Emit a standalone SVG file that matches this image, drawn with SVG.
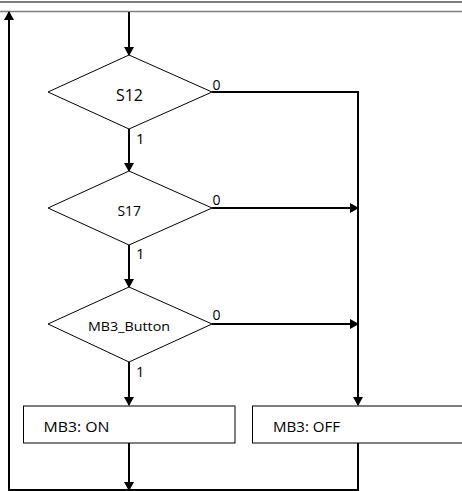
<svg xmlns="http://www.w3.org/2000/svg" width="462" height="491" viewBox="0 0 462 491">
<defs>
<marker id="ah" viewBox="0 0 9 10" markerWidth="9" markerHeight="10" refX="8" refY="5" orient="auto" markerUnits="userSpaceOnUse">
<path d="M0,0 L9,5 L0,10 z" fill="#000"/>
</marker>
<style>
.shape{fill:#fff;stroke:#000;stroke-width:1}
.conn{fill:none;stroke:#000;stroke-width:2}
.t{font-family:"Open Sans","Liberation Sans",Arial,sans-serif;fill:#000}
</style>
</defs>
<rect x="0" y="0" width="462" height="491" fill="#fff"/>
<line x1="0" y1="2" x2="462" y2="2" stroke="#000" stroke-width="1"/>
<line x1="0" y1="11.5" x2="462" y2="11.5" stroke="#808080" stroke-width="1.3"/>

<g id="connectors">
<path class="conn" d="M129,12 V55" marker-end="url(#ah)"/>
<path class="conn" d="M129,129 V171" marker-end="url(#ah)"/>
<path class="conn" d="M129,245 V287" marker-end="url(#ah)"/>
<path class="conn" d="M129,362 V405" marker-end="url(#ah)"/>
<path class="conn" d="M212,92 H358 V405" marker-end="url(#ah)"/>
<path class="conn" d="M212,208 H358" marker-end="url(#ah)"/>
<path class="conn" d="M212,324 H358" marker-end="url(#ah)"/>
<path class="conn" d="M129,443 V490" marker-end="url(#ah)"/>
<path class="conn" d="M358,443 V490 H9 V12" marker-end="url(#ah)"/>
<text class="t" x="212.5" y="89.5" font-size="14">0</text>
<text class="t" x="212.5" y="205" font-size="14">0</text>
<text class="t" x="212.5" y="320" font-size="14">0</text>
<text class="t" x="136" y="143.5" font-size="15">1</text>
<text class="t" x="136" y="258.5" font-size="15">1</text>
<text class="t" x="136" y="376.5" font-size="14.5">1</text>
</g>

<g id="d_s12">
<polygon class="shape" points="129,55 212,92 129,129 48,92"/>
<text class="t" x="116" y="100.5" font-size="15.5" textLength="27" lengthAdjust="spacingAndGlyphs">S12</text>
</g>
<g id="d_s17">
<polygon class="shape" points="129,171 212,208 129,245 48,208"/>
<text class="t" x="117.5" y="215.5" font-size="14" textLength="23.5" lengthAdjust="spacingAndGlyphs">S17</text>
</g>
<g id="d_mb3button">
<polygon class="shape" points="129,287 212,324 129,362 48,324"/>
<text class="t" x="88" y="330.5" font-size="13.5" textLength="82" lengthAdjust="spacingAndGlyphs">MB3_Button</text>
</g>
<g id="b_on">
<rect class="shape" x="23.5" y="406" width="211.5" height="37"/>
<text class="t" x="43.5" y="431.5" font-size="14" textLength="66" lengthAdjust="spacingAndGlyphs">MB3: ON</text>
</g>
<g id="b_off">
<rect class="shape" x="252.5" y="406" width="215" height="37"/>
<text class="t" x="273" y="431.5" font-size="14" textLength="67" lengthAdjust="spacingAndGlyphs">MB3: OFF</text>
</g>
</svg>
